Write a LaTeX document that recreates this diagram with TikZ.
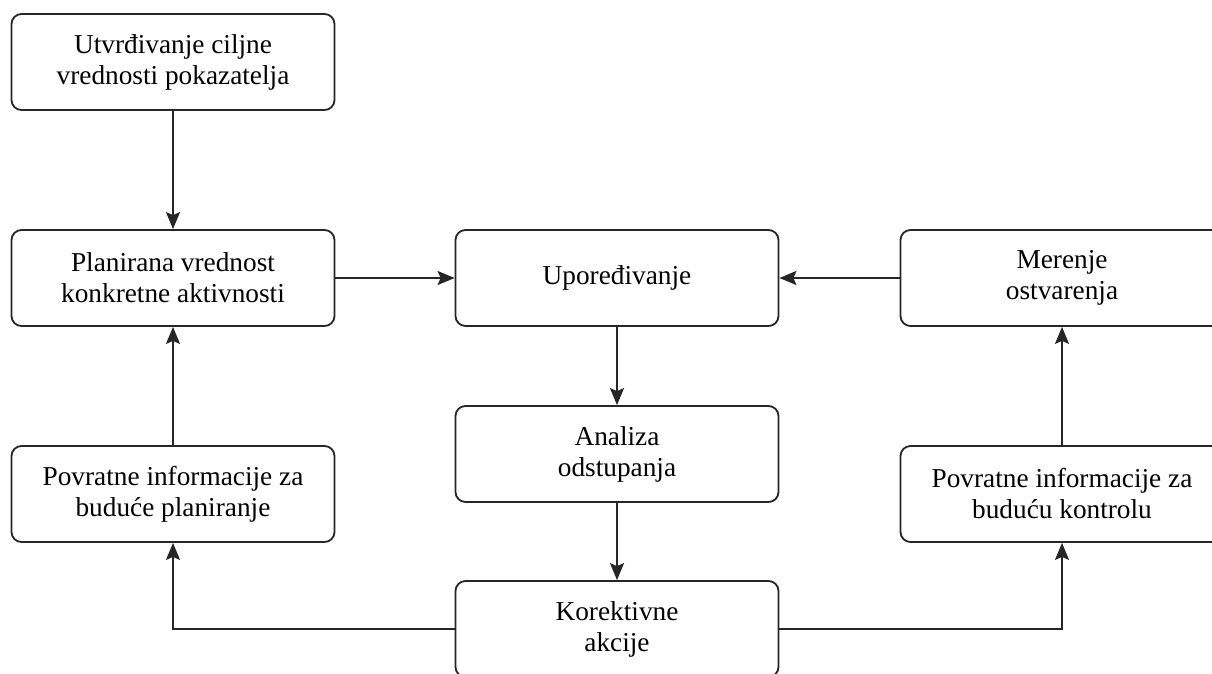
\documentclass[tikz,border=0pt]{standalone}
\usepackage{fontspec}
\setmainfont{Liberation Serif}
\usetikzlibrary{arrows.meta}
\begin{document}
\begin{tikzpicture}[x=1pt, y=-1pt,
  box/.style={draw=black!85, line width=1.8pt, rounded corners=10pt,
    minimum width=323pt, minimum height=96pt, align=center, inner sep=0pt,
    font=\fontsize{27.3}{31}\selectfont},
  link/.style={draw=black!85, line width=1.8pt,
    -{Stealth[length=17pt, width=14pt, inset=3pt]}}]
\clip (0,0) rectangle (1212,673);
\fill[white] (0,0) rectangle (1212,673);

\node[box] (target)  at (173,62)  {Utvrđivanje ciljne\\vrednosti pokazatelja};
\node[box] (plan)    at (173,278) {Planirana vrednost\\konkretne aktivnosti};
\node[box] (compare) at (617,278) {Upoređivanje};
\node[box] (measure) at (1062,278) {Merenje\\ostvarenja};
\node[box] (analysis) at (617,454) {Analiza\\odstupanja};
\node[box] (fbplan)  at (173,494) {Povratne informacije za\\buduće planiranje};
\node[box] (fbctrl)  at (1062,494) {Povratne informacije za\\buduću kontrolu};
\node[box] (action)  at (617,629) {Korektivne\\akcije};

\draw[link] (target) -- (plan);
\draw[link] (plan) -- (compare);
\draw[link] (measure) -- (compare);
\draw[link] (compare) -- (analysis);
\draw[link] (analysis) -- (action);
\draw[link] (action.west) -| (fbplan.south);
\draw[link] (action.east) -| (fbctrl.south);
\draw[link] (fbplan) -- (plan);
\draw[link] (fbctrl) -- (measure);
\end{tikzpicture}
\end{document}
